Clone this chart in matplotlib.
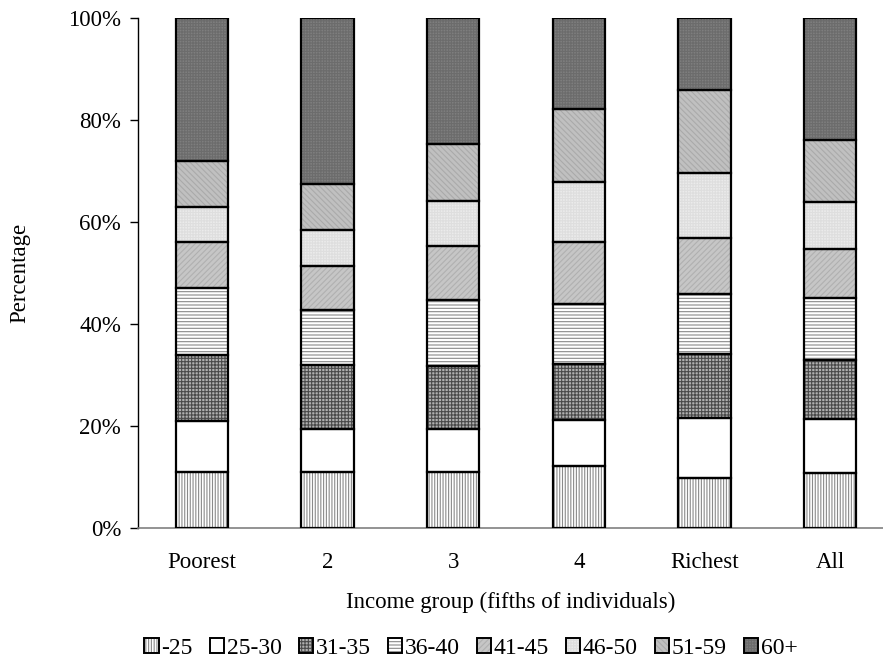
import matplotlib
matplotlib.use("Agg")
import matplotlib.pyplot as plt
from matplotlib.patches import Patch
from matplotlib.legend_handler import HandlerTuple
import numpy as np

plt.rcParams['font.family'] = ['Liberation Serif', 'DejaVu Serif']
plt.rcParams['hatch.linewidth'] = 0.8

categories = ["Poorest", "2", "3", "4", "Richest", "All"]
age_groups = ["-25", "25-30", "31-35", "36-40", "41-45", "46-50", "51-59", "60+"]

# share (%) of each age group within each income group
s_u25   = [11.0, 11.0, 11.0, 12.2,  9.8, 10.8]
s_25_30 = [10.0,  8.5,  8.5,  8.9, 11.7, 10.5]
s_31_35 = [13.0, 12.5, 12.3, 11.0, 12.6, 11.6]
s_36_40 = [13.0, 10.7, 12.9, 11.8, 11.7, 12.2]
s_41_45 = [ 9.0,  8.7, 10.6, 12.1, 11.1,  9.7]
s_46_50 = [ 7.0,  7.0,  8.9, 11.8, 12.8,  9.1]
s_51_59 = [ 9.0,  9.1, 11.0, 14.3, 16.2, 12.2]
s_60p   = [28.0, 32.5, 24.8, 17.9, 14.1, 23.9]

series = [s_u25, s_25_30, s_31_35, s_36_40, s_41_45, s_46_50, s_51_59, s_60p]

styles = [
    dict(face="#ffffff", hatch="||||||", hcol="#8a8a8a"),
    dict(face="#ffffff", hatch=None, hcol="#ffffff"),
    dict(face="#b0b0b0", hatch="+++++", hcol="#4a4a4a"),
    dict(face="#ffffff", hatch="-----", hcol="#8a8a8a"),
    dict(face="#c6c6c6", hatch="//////", hcol="#b0b0b0"),
    dict(face="#ebebeb", hatch="++++++", hcol="#dedede"),
    dict(face="#c0c0c0", hatch="\\\\\\\\\\\\", hcol="#aaaaaa"),
    dict(face="#7e7e7e", hatch="++++++", hcol="#6c6c6c"),
]

fig = plt.figure(figsize=(8.83, 6.63), dpi=100)
ax = fig.add_axes([0.156, 0.2036, 0.844, 0.7693])

x = np.arange(len(categories))
width = 0.415
bottom = np.zeros(len(categories))
handles = []
for vals, st in zip(series, styles):
    vals = np.array(vals)
    ax.bar(x, vals, width, bottom=bottom, color=st["face"], edgecolor=st["hcol"],
           hatch=st["hatch"], linewidth=0, zorder=2)
    ax.bar(x, vals, width, bottom=bottom, fill=False, edgecolor="black",
           linewidth=1.6, zorder=3)
    bottom += vals
    h1 = Patch(facecolor=st["face"], edgecolor=st["hcol"], hatch=st["hatch"], linewidth=0)
    h2 = Patch(fill=False, edgecolor="black", linewidth=1.4)
    handles.append((h1, h2))

fs = 16.5
ax.set_xlim(-0.51, 5.42)
ax.set_ylim(0, 100)
ax.set_yticks([0, 20, 40, 60, 80, 100])
ax.set_yticklabels([f"{v}%" for v in [0, 20, 40, 60, 80, 100]], fontsize=fs)
ax.set_xticks(x)
ax.set_xticklabels(categories, fontsize=fs)
ax.tick_params(axis='x', length=0, pad=17)
ax.tick_params(axis='y', direction='out', length=6, width=1, pad=6)
for sp in ["top", "right"]:
    ax.spines[sp].set_visible(False)
ax.spines["left"].set_linewidth(1)
ax.spines["bottom"].set_color("#808080")
ax.spines["bottom"].set_linewidth(1.2)

ax.set_ylabel("Percentage", fontsize=fs, labelpad=27)
ax.set_xlabel("Income group (fifths of individuals)", fontsize=fs, labelpad=14)

fig.legend(handles, age_groups, loc="center", bbox_to_anchor=(471/883, 1-648/663),
           ncol=8, frameon=False, fontsize=17, handlelength=0.6, handleheight=0.6,
           handletextpad=0.12, columnspacing=0.72, borderpad=0, borderaxespad=0,
           handler_map={tuple: HandlerTuple(ndivide=1, pad=0)})

fig.savefig("out.png", dpi=100)
